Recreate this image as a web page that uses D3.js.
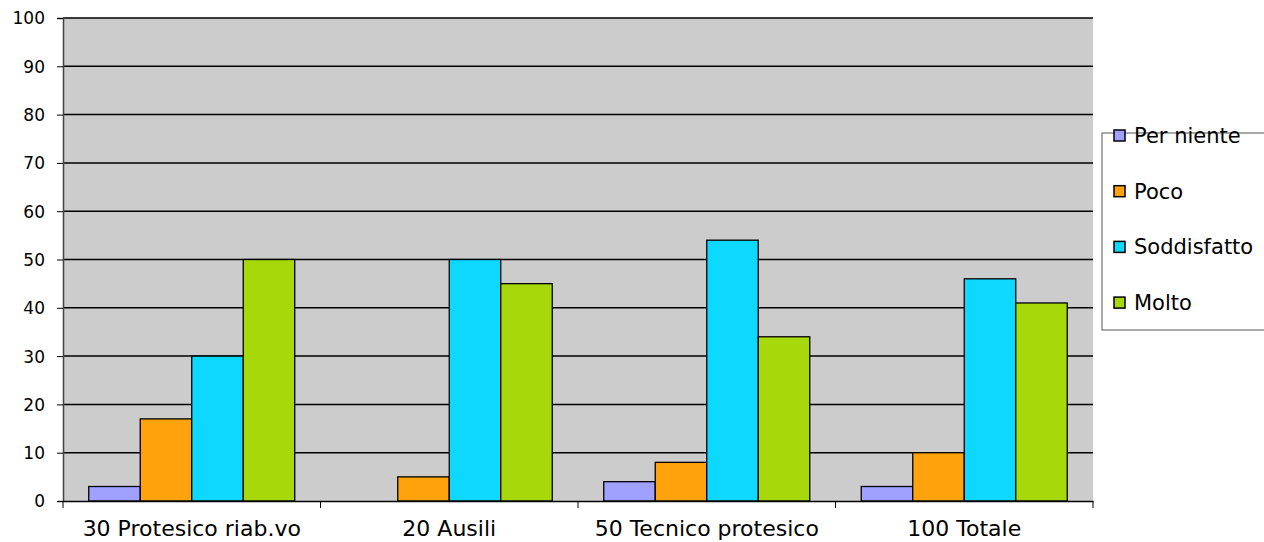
<!DOCTYPE html>
<html><head><meta charset="utf-8">
<script src="https://cdn.jsdelivr.net/npm/d3@7"></script>
<style>body{margin:0;background:#fff;} text{font-family:Verdana,"DejaVu Sans",sans-serif;}</style>
</head><body><svg id="c" width="1264" height="542"></svg>
<script>
const categories = ["30 Protesico riab.vo","20 Ausili","50 Tecnico protesico","100 Totale"];
const seriesNames = ["Per niente","Poco","Soddisfatto","Molto"];
const perNiente = [3,0,4,3];
const poco = [17,5,8,10];
const soddisfatto = [30,50,54,46];
const molto = [50,45,34,41];
const colors = ["#a0a0ff","#ffa20c","#0dd8ff","#a6d80a"];
const yTicks = [0,10,20,30,40,50,60,70,80,90,100];
const series = [perNiente,poco,soddisfatto,molto];

const svg = d3.select("#c");
const L=63,R=1093,T=18,B=501;
const x = d3.scaleBand().domain(categories).range([L,R]).paddingInner(0).paddingOuter(0);
const xs = d3.scaleBand().domain(seriesNames).range([0,x.bandwidth()]).paddingOuter(0.5).paddingInner(0);
const y = d3.scaleLinear().domain([0,100]).range([B,T]);

svg.append("rect").attr("x",L).attr("y",T).attr("width",R-L).attr("height",B-T).attr("fill","#cccccc");
svg.append("g").selectAll("line").data(yTicks.filter(d=>d>0)).join("line")
  .attr("x1",L).attr("x2",R).attr("y1",d=>y(d)).attr("y2",d=>y(d))
  .attr("stroke","#000").attr("stroke-width",1.5);

const g = svg.append("g");
categories.forEach((c,i)=>{
  seriesNames.forEach((s,j)=>{
    const v = series[j][i];
    if(v<=0) return;
    g.append("rect").attr("x",x(c)+xs(s)).attr("y",y(v)).attr("width",xs.bandwidth()).attr("height",y(0)-y(v))
      .attr("fill",colors[j]).attr("stroke","#000").attr("stroke-width",1.3);
  });
});

// y axis
const ya = svg.append("g").attr("transform",`translate(${L},0)`)
  .call(d3.axisLeft(y).tickValues(yTicks).tickSize(6).tickPadding(12));
ya.attr("font-size",null).attr("font-family",null);
ya.select(".domain").attr("stroke","#444").attr("stroke-width",1.5);
ya.selectAll(".tick line").attr("stroke","#000");
ya.selectAll("text").style("font-size","17px").attr("fill","#000").attr("dy","0.35em");

// x axis
const xa = svg.append("g").attr("transform",`translate(0,${B})`)
  .call(d3.axisBottom(x).tickSize(0).tickPadding(19));
xa.attr("font-size",null).attr("font-family",null);
xa.select(".domain").attr("stroke","#000").attr("stroke-width",1.5);
xa.selectAll("text").style("font-size","22px").attr("fill","#000");
const edges = categories.map(c=>x(c)).concat([R]);
svg.append("g").selectAll("line").data(edges).join("line")
  .attr("x1",d=>d).attr("x2",d=>d).attr("y1",B).attr("y2",B+7).attr("stroke","#000");

// legend
const lg = svg.append("g");
lg.append("rect").attr("x",1102).attr("y",133).attr("width",170).attr("height",197).attr("fill","#fff").attr("stroke","#555").attr("stroke-width",1);
seriesNames.forEach((s,j)=>{
  const cy = 135 + j*55.7;
  lg.append("rect").attr("x",1114).attr("y",cy-5).attr("width",11).attr("height",11).attr("fill",colors[j]).attr("stroke","#000").attr("stroke-width",1.5);
  lg.append("text").attr("x",1134).attr("y",cy+8).style("font-size","21px").text(s);
});
</script></body></html>
